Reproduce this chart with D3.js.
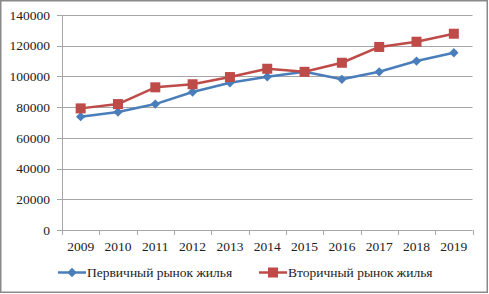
<!DOCTYPE html>
<html>
<head>
<meta charset="utf-8">
<script src="https://cdn.jsdelivr.net/npm/d3@7"></script>
<style>
  body { margin: 0; background: #fff; }
  text { font-family: "Liberation Serif", "Times New Roman", serif; fill: #222; }
</style>
</head>
<body>
<div id="wrapper"></div>
<script>
const years = ["2009", "2010", "2011", "2012", "2013", "2014", "2015", "2016", "2017", "2018", "2019"];
const primaryMarket = [73800, 76800, 82000, 89900, 95900, 99800, 103000, 98100, 103000, 110000, 115400];
const secondaryMarket = [79200, 82000, 92900, 94900, 99600, 105000, 103000, 108900, 119200, 122600, 127800];
const yTicks = [0, 20000, 40000, 60000, 80000, 100000, 120000, 140000];
const seriesNames = ["Первичный рынок жилья", "Вторичный рынок жилья"];
const seriesColors = ["#4a7ebb", "#be4b48"];

function draw() {
    // 1. Dimensions
    const dimensions = {
        width: 489,
        height: 294,
        margin: { top: 15, right: 16.5, bottom: 64, left: 62 },
    };
    dimensions.boundedWidth = dimensions.width - dimensions.margin.left - dimensions.margin.right;
    dimensions.boundedHeight = dimensions.height - dimensions.margin.top - dimensions.margin.bottom;

    // 2. Canvas
    const wrapper = d3.select("#wrapper")
        .append("svg")
        .attr("width", dimensions.width)
        .attr("height", dimensions.height);

    // outer frame
    wrapper.append("rect")
        .attr("x", 0.75).attr("y", 0.75)
        .attr("width", dimensions.width - 2.5)
        .attr("height", dimensions.height - 2.5)
        .attr("fill", "none")
        .attr("stroke", "#8a8a8a")
        .attr("stroke-width", 1.5);

    const bounds = wrapper.append("g")
        .attr("transform", `translate(${dimensions.margin.left},${dimensions.margin.top})`);

    // 3. Scales
    const xScale = d3.scaleBand()
        .domain(years)
        .range([0, dimensions.boundedWidth]);
    const yScale = d3.scaleLinear()
        .domain([0, 140000])
        .range([dimensions.boundedHeight, 0]);

    // 4. Gridlines + axes
    bounds.append("g")
        .selectAll("line")
        .data(yTicks)
        .enter().append("line")
        .attr("x1", -5)
        .attr("x2", dimensions.boundedWidth)
        .attr("y1", d => Math.round(yScale(d)) + 0.5)
        .attr("y2", d => Math.round(yScale(d)) + 0.5)
        .attr("stroke", "#a6a6a6")
        .attr("stroke-width", 1);

    bounds.append("line")
        .attr("x1", 0.5).attr("x2", 0.5)
        .attr("y1", 0).attr("y2", dimensions.boundedHeight)
        .attr("stroke", "#a6a6a6");

    bounds.append("g")
        .selectAll("text")
        .data(yTicks)
        .enter().append("text")
        .attr("x", -12)
        .attr("y", d => yScale(d))
        .attr("dy", "0.35em")
        .attr("text-anchor", "end")
        .style("font-size", "13.5px")
        .text(d => d);

    // x axis ticks at band boundaries
    const xBoundaries = years.map(d => xScale(d)).concat([dimensions.boundedWidth]);
    bounds.append("g")
        .selectAll("line")
        .data(xBoundaries)
        .enter().append("line")
        .attr("x1", d => Math.round(d) + 0.5)
        .attr("x2", d => Math.round(d) + 0.5)
        .attr("y1", dimensions.boundedHeight)
        .attr("y2", dimensions.boundedHeight + 5)
        .attr("stroke", "#a6a6a6");

    bounds.append("g")
        .selectAll("text")
        .data(years)
        .enter().append("text")
        .attr("x", d => xScale(d) + xScale.bandwidth() / 2)
        .attr("y", dimensions.boundedHeight + 16)
        .attr("dy", "0.35em")
        .attr("text-anchor", "middle")
        .style("font-size", "13.5px")
        .text(d => d);

    // 5. Lines + markers
    const cx = d => xScale(d) + xScale.bandwidth() / 2;
    const lineGen = d3.line()
        .x(d => cx(d.year))
        .y(d => yScale(d.value));

    const seriesData = [primaryMarket, secondaryMarket].map(values =>
        years.map((year, i) => ({ year, value: values[i] }))
    );

    const diamond = d3.symbol().type(d3.symbolDiamond2).size(56);

    seriesData.forEach((points, si) => {
        bounds.append("path")
            .attr("d", lineGen(points))
            .attr("fill", "none")
            .attr("stroke", seriesColors[si])
            .attr("stroke-width", 2.5)
            .attr("stroke-linejoin", "round");
    });

    // draw markers (red squares first, blue diamonds over? reference: red on top)
    bounds.selectAll(".diamond")
        .data(seriesData[0])
        .enter().append("path")
        .attr("class", "diamond")
        .attr("transform", d => `translate(${cx(d.year)},${yScale(d.value)})`)
        .attr("d", diamond)
        .attr("fill", seriesColors[0]);

    bounds.selectAll(".square")
        .data(seriesData[1])
        .enter().append("rect")
        .attr("class", "square")
        .attr("x", d => cx(d.year) - 5)
        .attr("y", d => yScale(d.value) - 5)
        .attr("width", 10)
        .attr("height", 10)
        .attr("fill", seriesColors[1]);

    // 6. Legend
    const legendY = 272.5;
    const legendItems = [
        { x: 58, name: seriesNames[0], color: seriesColors[0], marker: "diamond" },
        { x: 259, name: seriesNames[1], color: seriesColors[1], marker: "square" },
    ];
    const legend = wrapper.append("g");
    legendItems.forEach(item => {
        const g = legend.append("g").attr("transform", `translate(${item.x},${legendY})`);
        g.append("line")
            .attr("x1", 0).attr("x2", 28)
            .attr("stroke", item.color)
            .attr("stroke-width", 2.5);
        if (item.marker === "diamond") {
            g.append("path")
                .attr("transform", "translate(14,0)")
                .attr("d", diamond)
                .attr("fill", item.color);
        } else {
            g.append("rect")
                .attr("x", 9).attr("y", -5)
                .attr("width", 10).attr("height", 10)
                .attr("fill", item.color);
        }
        g.append("text")
            .attr("x", 29)
            .attr("dy", "0.35em")
            .style("font-size", "13.5px")
            .text(item.name);
    });
}

draw();
</script>
</body>
</html>
